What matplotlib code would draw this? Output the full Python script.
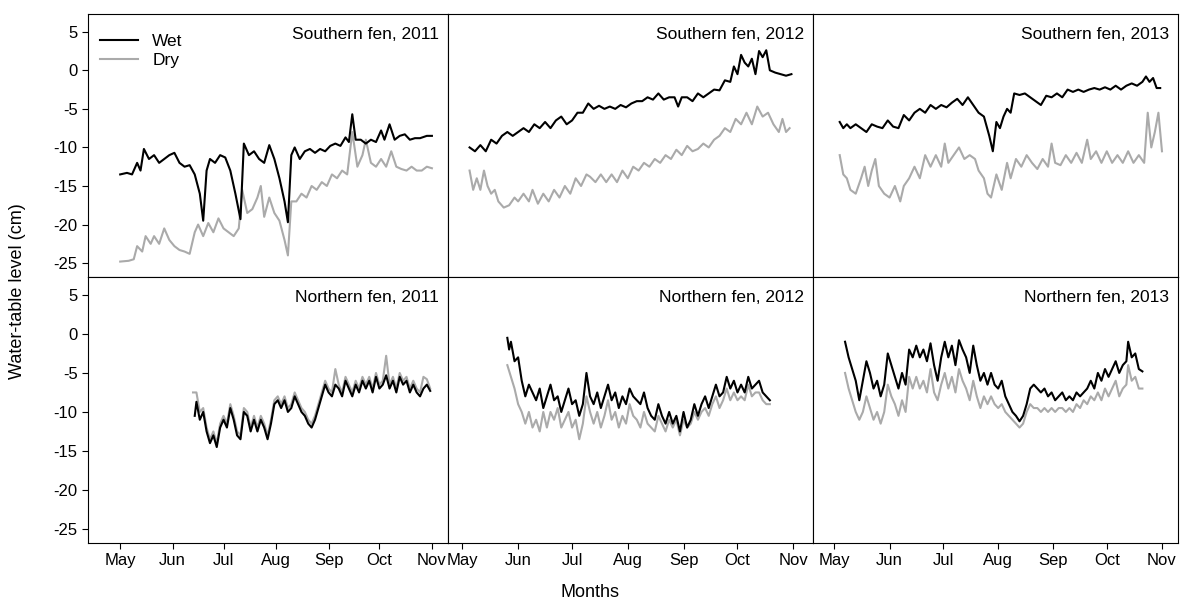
import matplotlib
matplotlib.use("Agg")
import matplotlib.pyplot as plt

plt.rcParams['font.family'] = ['Liberation Sans', 'DejaVu Sans']

month_days = [121, 152, 182, 213, 244, 274, 305]
month_labels = ['May', 'Jun', 'Jul', 'Aug', 'Sep', 'Oct', 'Nov']
yticks = [5, 0, -5, -10, -15, -20, -25]

# (day of year, water-table level cm)
s2011_wet = [(121,-13.5),(125,-13.3),(128,-13.5),(131,-12),(133,-13),(135,-10.2),(138,-11.5),(141,-11),(144,-12),(147,-11.5),(150,-11),(153,-10.7),(156,-12),(159,-12.5),(162,-12.3),(165,-13.5),(168,-16),(170,-19.5),(172,-13),(174,-11.5),(177,-12),(180,-11),(183,-11.3),(186,-13),(189,-16),(192,-19.3),(194,-9.5),(197,-11),(200,-10.5),(203,-11.5),(206,-12),(209,-9.7),(212,-11.5),(215,-14),(218,-17),(220,-19.7),(222,-11),(224,-10),(227,-11.5),(230,-10.5),(233,-10.2),(236,-10.7),(239,-10.2),(242,-10.5),(245,-9.8),(248,-9.5),(251,-9.8),(254,-8.7),(256,-9.3),(258,-5.7),(260,-9),(263,-9),(266,-9.5),(269,-9),(272,-9.3),(275,-7.8),(277,-9),(280,-7),(283,-9),(286,-8.5),(289,-8.3),(292,-9),(295,-8.8),(298,-8.8),(302,-8.5),(305,-8.5)]
s2011_dry = [(121,-24.8),(126,-24.7),(129,-24.5),(131,-22.8),(134,-23.5),(136,-21.5),(139,-22.5),(141,-21.5),(144,-22.5),(147,-20.5),(150,-22),(153,-22.8),(156,-23.3),(159,-23.5),(162,-23.8),(165,-21),(167,-20),(170,-21.5),(173,-19.8),(176,-21),(179,-19.2),(182,-20.5),(185,-21),(188,-21.5),(191,-20.5),(193,-15.5),(196,-18.5),(199,-18),(202,-16.5),(204,-15),(206,-19),(209,-16.5),(212,-18.5),(215,-19.5),(218,-22),(220,-24),(222,-17),(225,-17),(228,-16),(231,-16.5),(234,-15),(237,-15.5),(240,-14.5),(243,-15),(246,-13.5),(249,-14),(252,-13),(255,-13.5),(258,-8),(261,-12.5),(264,-11),(266,-9),(269,-12),(272,-12.5),(275,-11.5),(278,-12.5),(281,-10.5),(284,-12.5),(287,-12.8),(290,-13),(293,-12.5),(296,-13),(299,-13),(302,-12.5),(305,-12.7)]

s2012_wet = [(125,-10),(128,-10.5),(131,-9.7),(134,-10.5),(137,-9),(140,-9.5),(143,-8.5),(146,-8),(149,-8.5),(152,-8),(155,-7.5),(158,-8),(161,-7),(164,-7.5),(167,-6.7),(170,-7.5),(173,-6.5),(176,-6),(179,-7),(182,-6.5),(185,-5.5),(188,-5.5),(191,-4.3),(194,-5),(197,-4.6),(200,-5),(203,-4.7),(206,-5),(209,-4.5),(212,-4.8),(215,-4.3),(218,-4),(221,-4),(224,-3.5),(227,-3.8),(230,-3),(233,-3.8),(236,-3.5),(239,-3.5),(241,-4.7),(243,-3.5),(246,-3.5),(249,-4),(252,-3),(255,-3.5),(258,-3),(261,-2.5),(264,-2.6),(267,-1.3),(270,-1.5),(272,0.5),(274,-0.5),(276,2),(278,1),(280,0.5),(282,1.5),(284,-0.5),(286,2.5),(288,1.7),(290,2.6),(292,0),(295,-0.3),(298,-0.5),(301,-0.7),(304,-0.5)]
s2012_dry = [(125,-13),(127,-15.5),(129,-14),(131,-15.5),(133,-13),(135,-15),(137,-16),(139,-15.5),(141,-17),(144,-17.8),(147,-17.5),(150,-16.5),(152,-17),(155,-16),(158,-17),(160,-15.5),(163,-17.3),(166,-16),(169,-17),(172,-15.5),(175,-16.5),(178,-15),(181,-16),(184,-14),(187,-15),(190,-13.5),(192,-13.8),(195,-14.5),(198,-13.5),(201,-14.5),(204,-13.5),(207,-14.5),(210,-13),(213,-14),(216,-12.5),(219,-13),(222,-12),(225,-12.5),(228,-11.5),(231,-12),(234,-11),(237,-11.5),(240,-10.3),(243,-11),(246,-9.8),(249,-10.5),(252,-10.2),(255,-9.5),(258,-10),(261,-9),(264,-8.5),(267,-7.5),(270,-8),(273,-6.3),(276,-7),(279,-5.5),(282,-7),(285,-4.7),(288,-6),(291,-5.5),(294,-7),(297,-8),(299,-6.3),(301,-8),(303,-7.5)]

s2013_wet = [(124,-6.7),(126,-7.5),(128,-7),(130,-7.5),(133,-7),(136,-7.5),(139,-8),(142,-7),(145,-7.3),(148,-7.5),(151,-6.5),(154,-7.3),(157,-7.5),(160,-5.8),(163,-6.5),(166,-5.5),(169,-5),(172,-5.5),(175,-4.5),(178,-5),(181,-4.5),(184,-4.8),(187,-4.2),(190,-3.7),(193,-4.5),(196,-3.5),(199,-4.5),(202,-5.5),(205,-6),(208,-8.5),(210,-10.5),(212,-6.7),(214,-7.5),(216,-6),(218,-5),(220,-5.5),(222,-3),(225,-3.2),(228,-3),(231,-3.5),(234,-4),(237,-4.5),(240,-3.3),(243,-3.5),(246,-3),(249,-3.5),(252,-2.5),(255,-2.8),(258,-2.5),(261,-2.8),(264,-2.5),(267,-2.3),(270,-2.5),(273,-2.2),(276,-2.5),(279,-2),(282,-2.5),(285,-2),(288,-1.7),(291,-2),(294,-1.5),(296,-0.8),(298,-1.5),(300,-1),(302,-2.3),(304,-2.3)]
s2013_dry = [(124,-11),(126,-13.5),(128,-14),(130,-15.5),(133,-16),(136,-14),(138,-12.5),(140,-15),(142,-13),(144,-11.5),(146,-15),(149,-16),(152,-16.5),(155,-15),(158,-17),(160,-15),(163,-14),(166,-12.5),(169,-14),(172,-11),(175,-12.5),(178,-11),(181,-12.5),(183,-9.5),(185,-12),(188,-11),(191,-10),(194,-11.5),(197,-11),(200,-11.5),(202,-13),(205,-14),(207,-16),(209,-16.5),(212,-13.5),(215,-15.5),(218,-12),(220,-14),(223,-11.5),(226,-12.5),(229,-11),(232,-12),(235,-12.8),(238,-11.5),(241,-12.5),(243,-9.5),(245,-12),(248,-12.3),(251,-11),(254,-12),(257,-10.7),(260,-12),(263,-9),(265,-11.5),(268,-10.5),(271,-12),(274,-10.5),(277,-12),(280,-11),(283,-12),(286,-10.5),(289,-12),(292,-11),(295,-12),(297,-5.5),(299,-10),(301,-8),(303,-5.5),(305,-10.5)]

n2011_wet = [(165,-10.5),(166,-8.7),(168,-11),(170,-10),(172,-12.5),(174,-14),(176,-13),(178,-14.5),(180,-12),(182,-11),(184,-12),(186,-9.5),(188,-11),(190,-13),(192,-13.5),(194,-10),(196,-10.5),(198,-12.5),(200,-11),(202,-12.5),(204,-11),(206,-12),(208,-13.5),(210,-11.5),(212,-9),(214,-8.5),(216,-9.5),(218,-8.5),(220,-10),(222,-9.5),(224,-8),(226,-9),(228,-10),(230,-10.5),(232,-11.5),(234,-12),(236,-11),(238,-9.5),(240,-8),(242,-6.5),(244,-7.5),(246,-8),(248,-6.5),(250,-7),(252,-8),(254,-6),(256,-7),(258,-8),(260,-6.5),(262,-7.5),(264,-6),(266,-7),(268,-6),(270,-7.5),(272,-5.5),(274,-7),(276,-6.5),(278,-5.3),(280,-7),(282,-6),(284,-7.5),(286,-5.5),(288,-6.5),(290,-6),(292,-7.5),(294,-6.5),(296,-7.5),(298,-8),(300,-7),(302,-6.5),(304,-7.3)]
n2011_dry = [(164,-7.5),(166,-7.5),(168,-10),(170,-9.5),(172,-12),(174,-13.5),(176,-12.5),(178,-14),(180,-11.5),(182,-10.5),(184,-11.5),(186,-9),(188,-10.5),(190,-12.5),(192,-13),(194,-9.5),(196,-10),(198,-12),(200,-10.5),(202,-12),(204,-10.5),(206,-11.5),(208,-13),(210,-11),(212,-8.5),(214,-8),(216,-9),(218,-8),(220,-9.5),(222,-9),(224,-7.5),(226,-8.5),(228,-9.5),(230,-10),(232,-11),(234,-11.5),(236,-10.5),(238,-9),(240,-7.5),(242,-6),(244,-7),(246,-7.5),(248,-4.5),(250,-6.5),(252,-7.5),(254,-5.5),(256,-6.5),(258,-7.5),(260,-6),(262,-7),(264,-5.5),(266,-6.5),(268,-5.5),(270,-7),(272,-5),(274,-6.5),(276,-6),(278,-2.8),(280,-6.5),(282,-5.5),(284,-7),(286,-5),(288,-6),(290,-5.5),(292,-7),(294,-6),(296,-7),(298,-7.5),(300,-5.5),(302,-5.8),(304,-7)]

n2012_wet = [(146,-0.5),(147,-2),(148,-1),(150,-3.5),(152,-3),(154,-6),(156,-8),(158,-6.5),(160,-7.5),(162,-8.5),(164,-7),(166,-9.5),(168,-8),(170,-6.5),(172,-8.5),(174,-8),(176,-10),(178,-8.5),(180,-7),(182,-9),(184,-8.5),(186,-10.5),(188,-9),(190,-5),(192,-8),(194,-9),(196,-7.5),(198,-9.5),(200,-8),(202,-6.5),(204,-8.5),(206,-7.5),(208,-9.5),(210,-8),(212,-9),(214,-7),(216,-8),(218,-8.5),(220,-9),(222,-7.5),(224,-9.5),(226,-10.5),(228,-11),(230,-9),(232,-10.5),(234,-11.5),(236,-10),(238,-11.5),(240,-10.5),(242,-12.5),(244,-10),(246,-12),(248,-11),(250,-9),(252,-10.5),(254,-9),(256,-8),(258,-9.5),(260,-8),(262,-6.5),(264,-8),(266,-7.5),(268,-5.5),(270,-7),(272,-6),(274,-7.5),(276,-6.5),(278,-7.5),(280,-5.5),(282,-7),(284,-6.5),(286,-6),(288,-7.5),(290,-8),(292,-8.5)]
n2012_dry = [(146,-4),(148,-5.5),(150,-7),(152,-9),(154,-10),(156,-11.5),(158,-10),(160,-12),(162,-11),(164,-12.5),(166,-10),(168,-12),(170,-10),(172,-11),(174,-9.5),(176,-12),(178,-11),(180,-10),(182,-12),(184,-11),(186,-13.5),(188,-11.5),(190,-8),(192,-10),(194,-11.5),(196,-10),(198,-12),(200,-10.5),(202,-8.5),(204,-11),(206,-10),(208,-12),(210,-10.5),(212,-11.5),(214,-9),(216,-10.5),(218,-11),(220,-12),(222,-10),(224,-11.5),(226,-12),(228,-12.5),(230,-10.5),(232,-11.5),(234,-12.5),(236,-11),(238,-12),(240,-11),(242,-13),(244,-11),(246,-12),(248,-11.5),(250,-10),(252,-11),(254,-10),(256,-9.5),(258,-10.5),(260,-9),(262,-8),(264,-9.5),(266,-8.5),(268,-7),(270,-8.5),(272,-7.5),(274,-8.5),(276,-8),(278,-8.5),(280,-6.5),(282,-8),(284,-7.5),(286,-7.5),(288,-8.5),(290,-9),(292,-9)]

n2013_wet = [(127,-1),(129,-3),(131,-4.5),(133,-6),(135,-8.5),(137,-6),(139,-3.5),(141,-5),(143,-7),(145,-6),(147,-8),(149,-6.5),(151,-2.5),(153,-4),(155,-5.5),(157,-7),(159,-5),(161,-6.5),(163,-2),(165,-3),(167,-1.5),(169,-3),(171,-2),(173,-3.5),(175,-1.2),(177,-4),(179,-6),(181,-3),(183,-1),(185,-3),(187,-1.5),(189,-4),(191,-0.8),(193,-2),(195,-3),(197,-5),(199,-1.5),(201,-4),(203,-6),(205,-5),(207,-6.5),(209,-5),(211,-6.5),(213,-7),(215,-6),(217,-8),(219,-9),(221,-10),(223,-10.5),(225,-11.2),(227,-10.5),(229,-9),(231,-7),(233,-6.5),(235,-7),(237,-7.5),(239,-7),(241,-8),(243,-7.5),(245,-8.5),(247,-8),(249,-7.5),(251,-8.5),(253,-8),(255,-8.5),(257,-7.5),(259,-8),(261,-7.5),(263,-7),(265,-6),(267,-7),(269,-5),(271,-6),(273,-4.5),(275,-5.5),(277,-4.5),(279,-3.5),(281,-5),(283,-4),(285,-3.5),(286,-1),(288,-3),(290,-2.5),(292,-4.5),(294,-4.8)]
n2013_dry = [(127,-5),(129,-7),(131,-8.5),(133,-10),(135,-11),(137,-10),(139,-8),(141,-9.5),(143,-11),(145,-10),(147,-11.5),(149,-10),(151,-6.5),(153,-8),(155,-9),(157,-10.5),(159,-8.5),(161,-10),(163,-5.5),(165,-7),(167,-5.5),(169,-7),(171,-6),(173,-7.5),(175,-4.5),(177,-7.5),(179,-8.5),(181,-6.5),(183,-5),(185,-7),(187,-5.5),(189,-7.5),(191,-4.5),(193,-6),(195,-7),(197,-8.5),(199,-6),(201,-8),(203,-9.5),(205,-8),(207,-9),(209,-8),(211,-9),(213,-9.5),(215,-9),(217,-10),(219,-10.5),(221,-11),(223,-11.5),(225,-12),(227,-11.5),(229,-10),(231,-9),(233,-9.5),(235,-9.5),(237,-10),(239,-9.5),(241,-10),(243,-9.5),(245,-10),(247,-9.5),(249,-9.5),(251,-10),(253,-9.5),(255,-10),(257,-9),(259,-9.5),(261,-8.5),(263,-9),(265,-8),(267,-8.5),(269,-7.5),(271,-8.5),(273,-7),(275,-8),(277,-7),(279,-6),(281,-8),(283,-7),(285,-6.5),(286,-4),(288,-6),(290,-5.5),(292,-7),(294,-7)]

panels = [
    ('Southern fen, 2011', s2011_wet, s2011_dry),
    ('Southern fen, 2012', s2012_wet, s2012_dry),
    ('Southern fen, 2013', s2013_wet, s2013_dry),
    ('Northern fen, 2011', n2011_wet, n2011_dry),
    ('Northern fen, 2012', n2012_wet, n2012_dry),
    ('Northern fen, 2013', n2013_wet, n2013_dry),
]

W, H = 1181, 606
xedges = [88, 448, 813, 1178]
yedges = [(14, 277), (277, 543)]
xlims = [(102, 314.5), (113, 316), (109, 314)]

fig = plt.figure(figsize=(W / 100, H / 100), dpi=100)
for i, (title, wet, dry) in enumerate(panels):
    r, c = divmod(i, 3)
    x0, x1 = xedges[c], xedges[c + 1]
    yt, yb = yedges[r]
    ax = fig.add_axes([x0 / W, 1 - yb / H, (x1 - x0) / W, (yb - yt) / H])
    ax.plot([p[0] for p in dry], [p[1] for p in dry], color='#aaaaaa', lw=1.5, label='Dry')
    ax.plot([p[0] for p in wet], [p[1] for p in wet], color='black', lw=1.5, label='Wet')
    ax.set_xlim(*xlims[c])
    ax.set_ylim(-26.8, 7.3)
    ax.text(0.975, 0.95, title, transform=ax.transAxes, ha='right', va='top', fontsize=12.5)
    ax.set_xticks(month_days)
    ax.set_yticks(yticks)
    ax.tick_params(direction='out', length=4, labelsize=12)
    if c == 0:
        ax.set_yticklabels([str(v) for v in yticks])
    else:
        ax.tick_params(left=False, labelleft=False)
    if r == 1:
        ax.set_xticklabels(month_labels)
    else:
        ax.tick_params(bottom=False, labelbottom=False)
    if i == 0:
        h, l = ax.get_legend_handles_labels()
        ax.legend(h[::-1], l[::-1], loc='upper left', frameon=False, fontsize=12.5,
                  handlelength=2.2, borderaxespad=0.3, labelspacing=0.2, bbox_to_anchor=(0.0, 0.97))

fig.text(0.5, 0.008, 'Months', ha='center', va='bottom', fontsize=13)
fig.text(0.008, 0.52, 'Water-table level (cm)', rotation=90, ha='left', va='center', fontsize=13)

fig.savefig('out.png', dpi=100)
